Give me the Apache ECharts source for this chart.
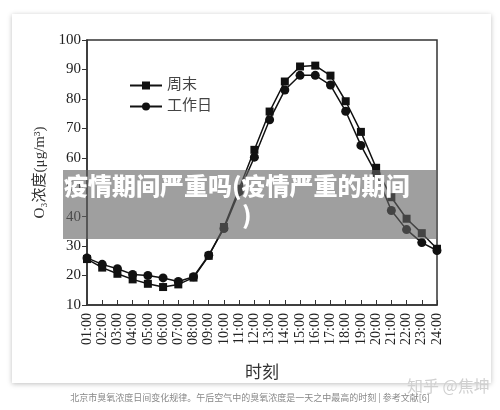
<!DOCTYPE html>
<html><head><meta charset="utf-8">
<script src="https://cdn.jsdelivr.net/npm/echarts@6/dist/echarts.min.js"></script>
<style>html,body{margin:0;padding:0;background:#fff}#c{width:500px;height:410px}</style>
</head><body><div id="c"></div>
<script>
const hours = ['01:00','02:00','03:00','04:00','05:00','06:00','07:00','08:00','09:00','10:00','11:00','12:00','13:00','14:00','15:00','16:00','17:00','18:00','19:00','20:00','21:00','22:00','23:00','24:00'];
const weekend = [25.6, 22.7, 20.6, 18.7, 17.2, 16.1, 17.0, 19.3, 26.7, 36.5, 49.5, 62.7, 75.7, 85.9, 91.0, 91.3, 87.9, 79.2, 68.8, 56.6, 46.6, 39.3, 34.4, 29.1];
const weekday = [26.0, 23.8, 22.3, 20.4, 20.0, 19.2, 18.0, 19.6, 26.9, 36.0, 48.5, 60.2, 72.9, 83.0, 88.0, 88.0, 84.7, 75.8, 64.2, 54.6, 42.1, 35.6, 31.2, 28.5];
const seriesNames = ['周末', '工作日'];
const yTicks = {min: 10, max: 100, interval: 10};

const serif = "'Liberation Serif', 'Noto Sans CJK SC', serif";
const chart = echarts.init(document.getElementById('c'));
chart.setOption({
  backgroundColor: 'transparent',
  animation: false,
  graphic: [
    {type: 'rect', z: -10, shape: {x: 12, y: 14, width: 479, height: 369},
     style: {fill: '#fff', shadowBlur: 5, shadowColor: 'rgba(0,0,0,0.25)', shadowOffsetY: 1}},
    {type: 'rect', z: 100, shape: {x: 63, y: 170, width: 374, height: 69},
     style: {fill: 'rgba(100,100,100,0.62)'}},
    {type: 'text', z: 101, left: 64, top: 174,
     style: {text: '疫情期间严重吗(疫情严重的期间', fill: '#fff', font: "900 24px 'Noto Sans CJK SC'"}},
    {type: 'text', z: 101, left: 242, top: 203,
     style: {text: ')', fill: '#fff', font: "900 24px 'Noto Sans CJK SC'"}},
    {type: 'text', z: 5, left: 'center', top: 393,
     style: {text: '北京市臭氧浓度日间变化规律。午后空气中的臭氧浓度是一天之中最高的时刻 | 参考文献[6]', fill: '#888', font: "9px 'Noto Sans CJK SC'"}},
    {type: 'text', z: 5, left: 407, top: 378,
     style: {text: '知乎 @焦坤', fill: '#d0d0d0', font: "16px 'Noto Sans CJK SC'"}}
  ],
  grid: {left: 87, right: 63, top: 40, bottom: 105, show: true, borderColor: '#333', borderWidth: 1.5, backgroundColor: 'transparent'},
  legend: {
    orient: 'vertical', left: 124, top: 73, itemGap: 6, itemWidth: 32, itemHeight: 10,
    data: seriesNames,
    textStyle: {fontFamily: serif, fontSize: 15, color: '#444'}
  },
  xAxis: {
    type: 'category', data: hours, boundaryGap: false,
    axisLine: {lineStyle: {color: '#333', width: 1.5}},
    axisTick: {inside: true, length: 5, lineStyle: {color: '#333'}},
    axisLabel: {rotate: 90, fontFamily: serif, fontSize: 14, color: '#222', margin: 8, interval: 0},
    name: '时刻', nameLocation: 'middle', nameGap: 60,
    nameTextStyle: {fontFamily: serif, fontSize: 17, color: '#333'}
  },
  yAxis: {
    type: 'value', min: yTicks.min, max: yTicks.max, interval: yTicks.interval,
    splitLine: {show: false},
    axisLine: {show: true, lineStyle: {color: '#333', width: 1.5}},
    axisTick: {show: true, length: 5, lineStyle: {color: '#333'}},
    axisLabel: {fontFamily: serif, fontSize: 15, color: '#222', margin: 6},
    name: 'O₃浓度(μg/m³)', nameLocation: 'middle', nameGap: 33,
    nameTextStyle: {fontFamily: serif, fontSize: 15, color: '#333'}
  },
  series: [
    {name: seriesNames[0], type: 'line', data: weekend, symbol: 'rect', symbolSize: 8,
     lineStyle: {color: '#111', width: 1.5}, itemStyle: {color: '#111'}},
    {name: seriesNames[1], type: 'line', data: weekday, symbol: 'circle', symbolSize: 9,
     lineStyle: {color: '#111', width: 1.5}, itemStyle: {color: '#111'}}
  ]
});
</script></body></html>
